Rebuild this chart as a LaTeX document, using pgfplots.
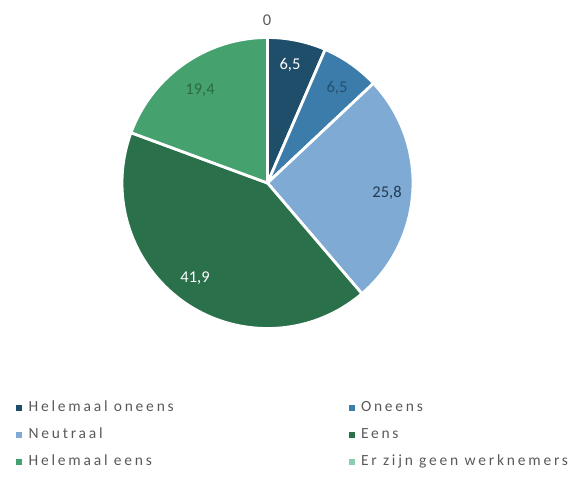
\documentclass[border=0pt]{standalone}
\usepackage{pgfplots}
\pgfplotsset{compat=1.18}
\usepackage{fontspec}
\setmainfont{Carlito}
\newfontfamily\legfont[LetterSpace=18]{Carlito}
\definecolor{cA}{HTML}{1F4E6B}
\definecolor{cB}{HTML}{3C7CAA}
\definecolor{cC}{HTML}{7FAAD3}
\definecolor{cD}{HTML}{2A704A}
\definecolor{cE}{HTML}{45A26F}
\definecolor{cF}{HTML}{8CCFB0}
\definecolor{txtgray}{HTML}{595959}
\definecolor{lblB}{HTML}{24506F}
\definecolor{lblC}{HTML}{223B57}
\definecolor{lblE}{HTML}{2A6B45}
% slice: start and end of cumulative share (in % of total 100.1)
\newcommand\slice[3]{%
  \fill[#3, draw=white, line width=2.8pt, line join=round]
    (axis cs:267.5,301) -- ++({90-#1*3.6/1.001}:145.5pt)
    arc[start angle={90-#1*3.6/1.001}, end angle={90-#2*3.6/1.001}, radius=145.5pt] -- cycle;}
\begin{document}
\begin{tikzpicture}
\begin{axis}[
  scale only axis, width=580pt, height=484pt,
  xmin=0, xmax=580, ymin=0, ymax=484,
  hide axis, clip=false,
  legend columns=2,
  legend cell align=left,
  legend image code/.code={\fill[#1] (0pt,-2.5pt) rectangle (5pt,2.5pt);},
  legend style={draw=none, fill=none, at={(axis cs:13,85)}, anchor=north west,
    font=\legfont\fontsize{15.5}{18}\selectfont, text=txtgray,
    nodes={text height=10pt, text depth=3pt, inner sep=0pt},
    row sep=14pt,
    /tikz/every odd column/.append style={column sep=7pt}},
]
\path (axis cs:0,0) rectangle (axis cs:580,484);
% values: 6.5, 6.5, 25.8, 41.9, 19.4, 0
\slice{0}{6.5}{cA}
\slice{6.5}{13.0}{cB}
\slice{13.0}{38.8}{cC}
\slice{38.8}{80.7}{cD}
\slice{80.7}{100.1}{cE}
\begin{scope}[font=\fontsize{16.5}{19}\selectfont]
\node[text=white] at (axis cs:290,419) {6,5};
\node[text=lblB] at (axis cs:337,396) {6,5};
\node[text=lblC] at (axis cs:387,291) {25,8};
\node[text=white] at (axis cs:195,206) {41,9};
\node[text=lblE] at (axis cs:200,394) {19,4};
\node[text=txtgray] at (axis cs:267,464) {0};
\end{scope}
\addlegendimage{cA}\addlegendentry{\makebox[320pt][l]{Helemaal oneens}}
\addlegendimage{cB}\addlegendentry{Oneens}
\addlegendimage{cC}\addlegendentry{\makebox[320pt][l]{Neutraal}}
\addlegendimage{cD}\addlegendentry{Eens}
\addlegendimage{cE}\addlegendentry{\makebox[320pt][l]{Helemaal eens}}
\addlegendimage{cF}\addlegendentry{Er zijn geen werknemers}
\end{axis}
\end{tikzpicture}
\end{document}
